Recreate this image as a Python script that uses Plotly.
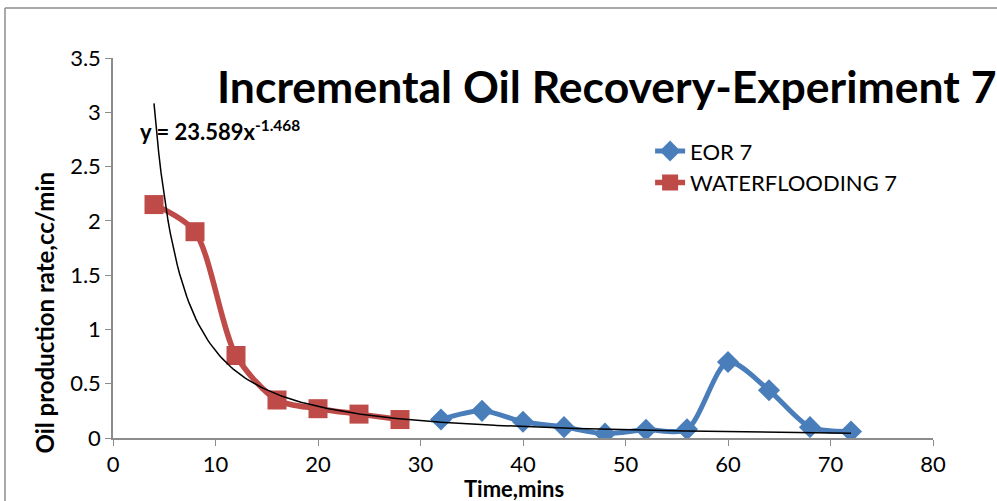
import numpy as np
import plotly.graph_objects as go

# Data
wf_time = [4, 8, 12, 16, 20, 24, 28]
wf_rate = [2.15, 1.90, 0.76, 0.35, 0.27, 0.22, 0.17]
eor_time = [32, 36, 40, 44, 48, 52, 56, 60, 64, 68, 72]
eor_rate = [0.17, 0.25, 0.15, 0.10, 0.04, 0.075, 0.08, 0.70, 0.44, 0.10, 0.06]

# Power trendline shown on the chart: y = 23.589 x^-1.468
trend_a = 23.589
trend_b = -1.468
trend_x = np.linspace(4, 72, 300)
trend_y = trend_a * trend_x ** trend_b

x_ticks = [0, 10, 20, 30, 40, 50, 60, 70, 80]
y_ticks = [0, 0.5, 1, 1.5, 2, 2.5, 3, 3.5]
y_tick_text = ["0", "0.5", "1", "1.5", "2", "2.5", "3", "3.5"]

BLUE = "#4A7EBB"
RED = "#BE4B48"
GRAY = "#8C8C8C"
FONT = "Lato"

fig = go.Figure()
fig.add_trace(go.Scatter(
    x=eor_time, y=eor_rate, name="EOR 7", mode="lines+markers",
    line=dict(color=BLUE, width=5, shape="spline", smoothing=0.8),
    marker=dict(symbol="diamond", size=17, color=BLUE),
))
fig.add_trace(go.Scatter(
    x=wf_time, y=wf_rate, name="WATERFLOODING 7", mode="lines+markers",
    line=dict(color=RED, width=5.5, shape="spline", smoothing=0.8),
    marker=dict(symbol="square", size=19, color=RED),
))
fig.add_trace(go.Scatter(
    x=trend_x, y=trend_y, mode="lines", showlegend=False,
    line=dict(color="black", width=1.5), hoverinfo="skip",
))

fig.update_layout(
    width=997, height=501,
    margin=dict(l=113, r=64, t=58, b=63),
    paper_bgcolor="white", plot_bgcolor="white",
    font=dict(family=FONT, color="black", size=21),
    showlegend=True,
    legend=dict(x=0.655, y=0.81, xanchor="left", yanchor="top",
                bgcolor="rgba(0,0,0,0)", font=dict(size=22, family=FONT),
                tracegroupgap=0),
    xaxis=dict(range=[0, 80], tickvals=x_ticks, showgrid=False, zeroline=False,
               showline=True, linecolor=GRAY, linewidth=1.5,
               ticks="outside", ticklen=6, tickcolor=GRAY,
               tickfont=dict(size=22, family=FONT)),
    yaxis=dict(range=[0, 3.5], tickvals=y_ticks, ticktext=y_tick_text,
               showgrid=False, zeroline=False,
               showline=True, linecolor=GRAY, linewidth=1.5,
               ticks="outside", ticklen=6, tickcolor=GRAY,
               tickfont=dict(size=22, family=FONT)),
    shapes=[
        dict(type="line", xref="paper", yref="paper", x0=-0.1317, x1=1.1, y0=1.1316, y1=1.1316,
             line=dict(color=GRAY, width=1.5)),
        dict(type="line", xref="paper", yref="paper", x0=-0.1317, x1=-0.1317, y0=1.1316, y1=-0.2,
             line=dict(color=GRAY, width=1.5)),
    ],
    annotations=[
        dict(text="<b>Incremental Oil Recovery-Experiment 7</b>", x=0.602, y=0.928,
             xref="paper", yref="paper", xanchor="center", yanchor="middle",
             showarrow=False, font=dict(size=44.5, family=FONT)),
        dict(text="<b>y = 23.589x<sup>-1.468</sup></b>", x=0.031, y=0.81,
             xref="paper", yref="paper", xanchor="left", yanchor="middle",
             showarrow=False, font=dict(size=22, family=FONT)),
        dict(text="<b>Oil production rate,cc/min</b>", x=-0.083, y=0.33,
             xref="paper", yref="paper", xanchor="center", yanchor="middle",
             textangle=-90, showarrow=False, font=dict(size=24, family=FONT)),
        dict(text="<b>Time,mins</b>", x=0.489, y=-0.1316,
             xref="paper", yref="paper", xanchor="center", yanchor="middle",
             showarrow=False, font=dict(size=22, family=FONT)),
    ],
)

fig.write_html("out.html", config={"displayModeBar": False},
               post_script="document.body.style.margin='0';")
